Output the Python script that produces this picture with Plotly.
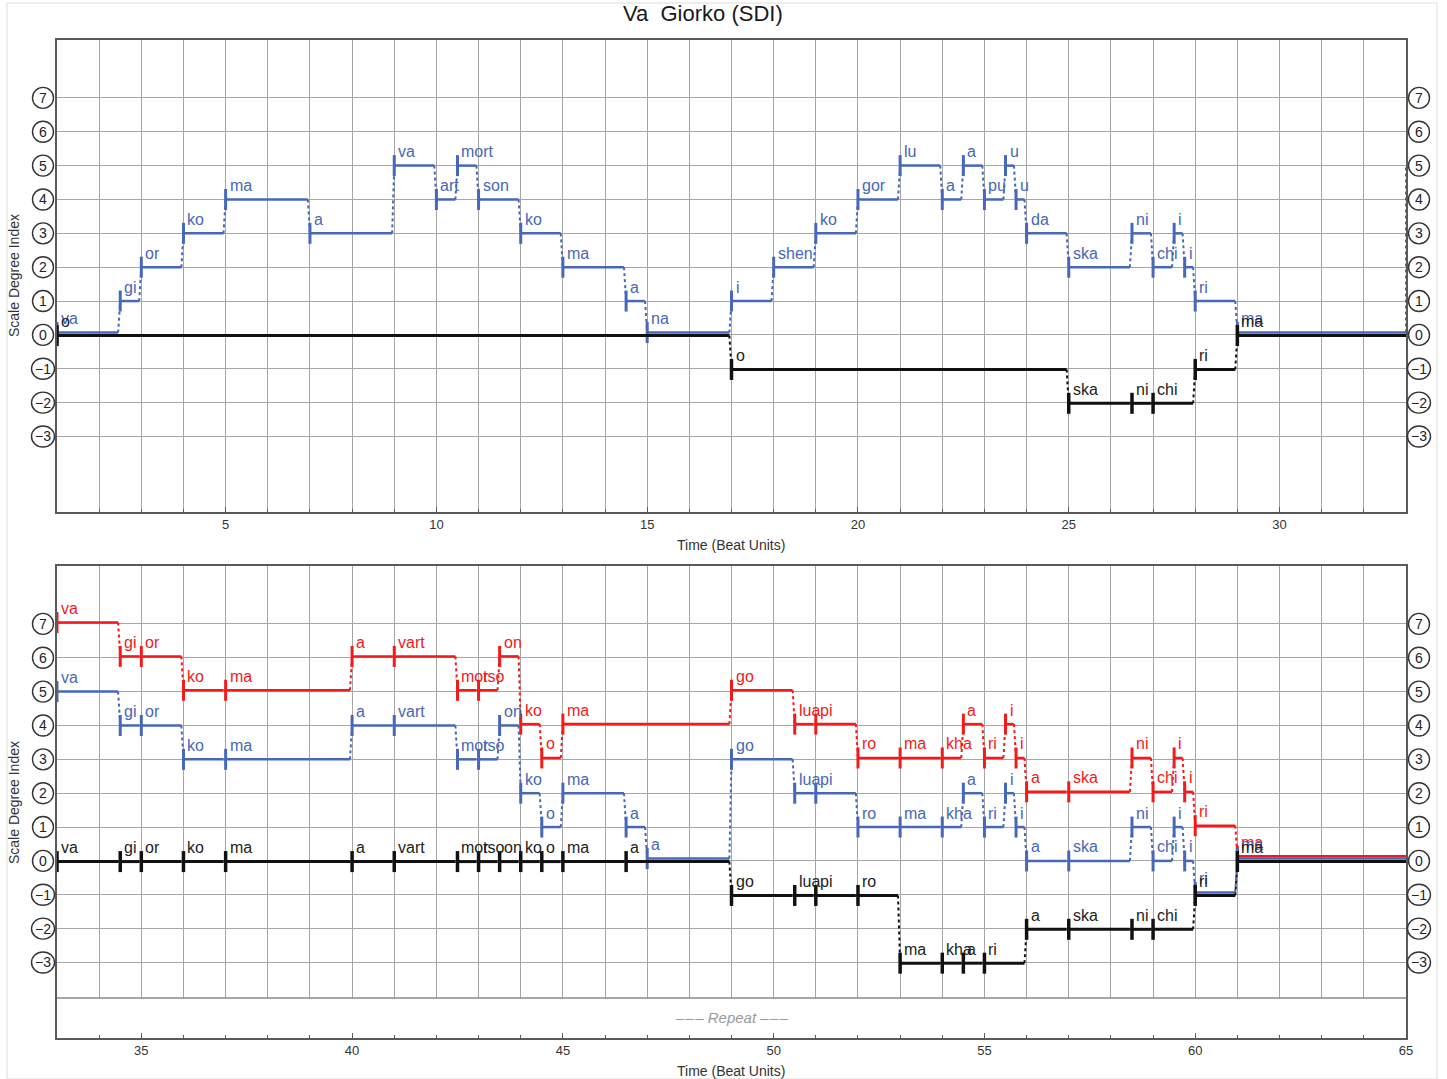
import plotly.graph_objects as go

# ---------------- data ----------------
TOP_END = 33
BOT_END = 65

TOP_BLUE_START = [1, 2.5, 3, 4, 5, 7, 9, 10, 10.5, 11, 12, 13, 14.5, 15, 17, 18, 19, 20, 21, 22,
                  22.5, 23, 23.5, 23.75, 24, 25, 26.5, 27, 27.5, 27.75, 28, 29]
TOP_BLUE_PITCH = [0, 1, 2, 3, 4, 3, 5, 4, 5, 4, 3, 2, 1, 0, 1, 2, 3, 4, 5, 4,
                  5, 4, 5, 4, 3, 2, 3, 2, 3, 2, 1, 0]
TOP_BLUE_SYL = ["va", "gi", "or", "ko", "ma", "a", "va", "art", "mort", "son", "ko", "ma", "a", "na",
                "i", "shen", "ko", "gor", "lu", "a", "a", "pu", "u", "u", "da", "ska", "ni", "chi",
                "i", "i", "ri", "ma"]
TOP_BLUE_NEXT = 5  # continues into the lower panel

TOP_BLACK_START = [1, 17, 25, 26.5, 27, 28, 29]
TOP_BLACK_PITCH = [0, -1, -2, -2, -2, -1, 0]
TOP_BLACK_SYL = ["o", "o", "ska", "ni", "chi", "ri", "ma"]

BOT_RED_START = [33, 34.5, 35, 36, 37, 40, 41, 42.5, 43, 43.5, 44, 44.5, 45, 49, 50.5, 51, 52, 53,
                 54, 54.5, 55, 55.5, 55.75, 56, 57, 58.5, 59, 59.5, 59.75, 60, 61]
BOT_RED_PITCH = [7, 6, 6, 5, 5, 6, 6, 5, 5, 6, 4, 3, 4, 5, 4, 4, 3, 3,
                 3, 4, 3, 4, 3, 2, 2, 3, 2, 3, 2, 1, 0]
BOT_RED_SYL = ["va", "gi", "or", "ko", "ma", "a", "vart", "mor", "tso", "on", "ko", "o", "ma", "go",
               "lua", "pi", "ro", "ma", "kha", "a", "ri", "i", "i", "a", "ska", "ni", "chi", "i", "i",
               "ri", "ma"]

BOT_BLUE_START = [33, 34.5, 35, 36, 37, 40, 41, 42.5, 43, 43.5, 44, 44.5, 45, 46.5, 47, 49, 50.5, 51,
                  52, 53, 54, 54.5, 55, 55.5, 55.75, 56, 57, 58.5, 59, 59.5, 59.75, 60, 61]
BOT_BLUE_PITCH = [5, 4, 4, 3, 3, 4, 4, 3, 3, 4, 2, 1, 2, 1, 0, 3, 2, 2,
                  1, 1, 1, 2, 1, 2, 1, 0, 0, 1, 0, 1, 0, -1, 0]
BOT_BLUE_SYL = ["va", "gi", "or", "ko", "ma", "a", "vart", "mor", "tso", "on", "ko", "o", "ma", "a",
                "a", "go", "lua", "pi", "ro", "ma", "kha", "a", "ri", "i", "i", "a", "ska", "ni",
                "chi", "i", "i", "ri", "ma"]

BOT_BLACK_START = [33, 34.5, 35, 36, 37, 40, 41, 42.5, 43, 43.5, 44, 44.5, 45, 46.5, 49, 50.5, 51,
                   52, 53, 54, 54.5, 55, 56, 57, 58.5, 59, 60, 61]
BOT_BLACK_PITCH = [0, 0, 0, 0, 0, 0, 0, 0, 0, 0, 0, 0, 0, 0, -1, -1, -1,
                   -1, -3, -3, -3, -3, -2, -2, -2, -2, -1, 0]
BOT_BLACK_SYL = ["va", "gi", "or", "ko", "ma", "a", "vart", "mor", "tso", "on", "ko", "o", "ma", "a",
                 "go", "lua", "pi", "ro", "ma", "kha", "a", "ri", "a", "ska", "ni", "chi", "ri", "ma"]

Y_TICKS = [-3, -2, -1, 0, 1, 2, 3, 4, 5, 6, 7]
TOP_X_TICKS = [5, 10, 15, 20, 25, 30]
BOT_X_TICKS = [35, 40, 45, 50, 55, 60, 65]

# ---------------- style ----------------
W, H = 1454, 1079        # figure size
REF_W = 1447             # width of the target picture (layout positions are fractions of it)
BLUE = "#4767b8"
RED = "#f21a1a"
BLACK = "#111111"
GRID = "#a6a6a6"
FRAME = "#5a5a5a"
FONT = "Liberation Sans, Arial, Helvetica, sans-serif"
GAP = 0.05


def px(x):
    return x / REF_W


def py(y):
    return 1 - y / H


fig = go.Figure()
annotations = []
shapes = []


def ends_of(starts, end):
    return list(starts[1:]) + [end]


def overlap_offsets(starts, pitches, end, others, off):
    ends = ends_of(starts, end)
    res = []
    for s, e, p in zip(starts, ends, pitches):
        hit = False
        for (os_, op, oe) in others:
            oends = ends_of(os_, oe)
            for s2, e2, p2 in zip(os_, oends, op):
                if p2 == p and min(e, e2) - max(s, s2) > 0.01:
                    hit = True
        res.append(off if hit else 0.0)
    return res


def add_series(starts, pitches, syls, end, color, width, xa, ya, offsets, next_pitch=None,
               tcolor=None):
    n = len(starts)
    ends = ends_of(starts, end)
    ys = [p + o for p, o in zip(pitches, offsets)]
    hx, hy, cx, cy = [], [], [], []
    for i in range(n):
        x1 = ends[i] - GAP if i < n - 1 else ends[i]
        hx += [starts[i], x1, None]
        hy += [ys[i], ys[i], None]
    for i in range(n - 1):
        cx += [ends[i] - GAP, starts[i + 1], None]
        cy += [ys[i], ys[i + 1], None]
    if next_pitch is not None:
        cx += [end, end, None]
        cy += [ys[-1], next_pitch, None]
    fig.add_trace(go.Scatter(x=cx, y=cy, mode="lines", xaxis=xa, yaxis=ya, hoverinfo="skip",
                             line=dict(color=color, width=2, dash="dot"), showlegend=False))
    fig.add_trace(go.Scatter(x=hx, y=hy, mode="lines", xaxis=xa, yaxis=ya, hoverinfo="skip",
                             line=dict(color=color, width=width), showlegend=False))
    fig.add_trace(go.Scatter(x=starts, y=ys, mode="markers", xaxis=xa, yaxis=ya, cliponaxis=False,
                             marker=dict(symbol="line-ns", size=15,
                                         line=dict(color=color, width=width + 0.5)),
                             hoverinfo="skip", showlegend=False))
    xr = "x" if xa == "x" else "x2"
    yr = "y" if ya == "y" else "y2"
    for s, y, t in zip(starts, ys, syls):
        annotations.append(dict(x=s, y=y, xref=xr, yref=yr, text=t, showarrow=False,
                                xanchor="left", yanchor="middle", xshift=2, yshift=14,
                                font=dict(family=FONT, size=16, color=tcolor or color)))


# ---- top panel ----
top_black_off = [-0.02] * len(TOP_BLACK_START)
top_blue_off = overlap_offsets(TOP_BLUE_START, TOP_BLUE_PITCH, TOP_END,
                               [(TOP_BLACK_START, TOP_BLACK_PITCH, TOP_END)], 0.07)
add_series(TOP_BLUE_START, TOP_BLUE_PITCH, TOP_BLUE_SYL, TOP_END, BLUE, 2.5, "x", "y",
           top_blue_off, next_pitch=TOP_BLUE_NEXT)
add_series(TOP_BLACK_START, TOP_BLACK_PITCH, TOP_BLACK_SYL, TOP_END, BLACK, 3, "x", "y",
           top_black_off, tcolor="#222222")

# ---- bottom panel ----
bot_black_off = [-0.02] * len(BOT_BLACK_START)
bot_blue_off = overlap_offsets(BOT_BLUE_START, BOT_BLUE_PITCH, BOT_END,
                               [(BOT_BLACK_START, BOT_BLACK_PITCH, BOT_END)], 0.07)
bot_red_off = overlap_offsets(BOT_RED_START, BOT_RED_PITCH, BOT_END,
                              [(BOT_BLUE_START, BOT_BLUE_PITCH, BOT_END),
                               (BOT_BLACK_START, BOT_BLACK_PITCH, BOT_END)], 0.14)
bot_red_off = [0.04 if o == 0 else o for o in bot_red_off]
add_series(BOT_RED_START, BOT_RED_PITCH, BOT_RED_SYL, BOT_END, RED, 2.5, "x2", "y2", bot_red_off)
add_series(BOT_BLUE_START, BOT_BLUE_PITCH, BOT_BLUE_SYL, BOT_END, BLUE, 2.5, "x2", "y2", bot_blue_off)
add_series(BOT_BLACK_START, BOT_BLACK_PITCH, BOT_BLACK_SYL, BOT_END, BLACK, 3, "x2", "y2",
           bot_black_off, tcolor="#222222")

# ---- axes ----
XDOM = [px(57), px(1406)]
TOP_YDOM = [py(512), py(40)]
BOT_YDOM = [py(1038), py(566)]
YR = [-5.23, 8.71]


def xaxis(rng, ticks, anchor):
    return dict(domain=XDOM, range=rng, anchor=anchor, tickmode="array", tickvals=ticks,
                ticktext=[str(t) for t in ticks], showgrid=True, gridcolor=GRID, gridwidth=1.3,
                minor=dict(dtick=1, tick0=0, showgrid=True, gridcolor=GRID, gridwidth=1.3,
                           ticks="inside", ticklen=3, tickcolor=FRAME),
                ticks="inside", ticklen=5, tickcolor=FRAME, showline=True, mirror=True,
                linecolor=FRAME, linewidth=1.6, zeroline=False,
                tickfont=dict(family=FONT, size=13, color="#333333"), fixedrange=True)


def yaxis(anchor, dom):
    return dict(domain=dom, range=YR, anchor=anchor, tickmode="array", tickvals=Y_TICKS,
                showticklabels=False, showgrid=True, gridcolor=GRID, gridwidth=1.3, ticks="",
                showline=True, mirror=True, linecolor=FRAME, linewidth=1.6, zeroline=False,
                fixedrange=True)


# circled y labels
for yr in ("y", "y2"):
    for v in Y_TICKS:
        lab = str(v) if v >= 0 else "\u2212" + str(-v)
        for xc in (px(43), px(1419)):
            rw = 10.5 if v >= 0 else 11.5
            shapes.append(dict(type="circle", xref="paper", yref=yr, xsizemode="pixel",
                               ysizemode="pixel", xanchor=xc, yanchor=v, x0=-rw, x1=rw, y0=-10.5,
                               y1=10.5, line=dict(color="#333333", width=1.4)))
            annotations.append(dict(x=xc, y=v, xref="paper", yref=yr, text=lab, showarrow=False,
                                    xanchor="center", yanchor="middle",
                                    font=dict(family=FONT, size=14, color="#222222")))

# repeat band in lower panel
shapes.append(dict(type="rect", xref="x2", yref="y2", x0=33, x1=65, y0=YR[0], y1=-4.05,
                   fillcolor="white", line=dict(width=0), layer="between"))
shapes.append(dict(type="line", xref="x2", yref="y2", x0=33, x1=65, y0=-4.05, y1=-4.05,
                   line=dict(color="#8a8a8a", width=1.6), layer="between"))
annotations.append(dict(x=49, y=-4.62, xref="x2", yref="y2",
                        text="\u2013\u200a\u2013\u200a\u2013 <i>Repeat</i> \u2013\u200a\u2013\u200a\u2013",
                        showarrow=False, font=dict(family=FONT, size=15, color="#9a9a9a")))

# page frame
shapes.append(dict(type="rect", xref="paper", yref="paper", x0=px(7), x1=px(1437), y0=py(1079),
                   y1=py(3), line=dict(color="#dddddd", width=1), layer="below"))

# titles
annotations.append(dict(x=px(703), y=py(14), xref="paper", yref="paper",
                        text="Va\u00a0 Giorko (SDI)", showarrow=False, xanchor="center",
                        yanchor="middle", font=dict(family=FONT, size=22, color="#1a1a1a")))
for yc in (276, 803):
    annotations.append(dict(x=px(14), y=py(yc), xref="paper", yref="paper",
                            text="Scale Degree Index", showarrow=False, textangle=-90,
                            xanchor="center", yanchor="middle",
                            font=dict(family=FONT, size=14, color="#333333")))
for yc in (545, 1071):
    annotations.append(dict(x=px(731), y=py(yc), xref="paper", yref="paper",
                            text="Time (Beat Units)", showarrow=False, xanchor="center",
                            yanchor="middle", font=dict(family=FONT, size=14, color="#333333")))

fig.update_layout(
    width=W, height=H, autosize=False,
    margin=dict(l=0, r=0, t=0, b=0, pad=0),
    paper_bgcolor="white", plot_bgcolor="white",
    xaxis=xaxis([1, TOP_END], TOP_X_TICKS, "y"),
    yaxis=yaxis("x", TOP_YDOM),
    xaxis2=xaxis([TOP_END, BOT_END], BOT_X_TICKS, "y2"),
    yaxis2=yaxis("x2", BOT_YDOM),
    annotations=annotations, shapes=shapes, showlegend=False,
    font=dict(family=FONT),
)

fig.write_html("out.html", config={"displayModeBar": False},
               post_script="document.body.style.margin='0';document.body.style.overflow='hidden';")
